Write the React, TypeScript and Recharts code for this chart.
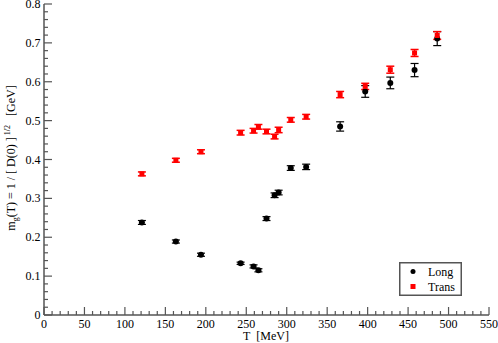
import React from 'react';
import { ScatterChart, Scatter, XAxis, YAxis, ErrorBar, Legend, Label } from 'recharts';

const temperatures = [121, 163, 194, 243, 259, 265, 275, 285, 290, 305, 324, 366, 397, 428, 458, 486];
const longValues = [0.238, 0.189, 0.155, 0.133, 0.125, 0.115, 0.248, 0.308, 0.315, 0.378, 0.381, 0.485, 0.575, 0.597, 0.630, 0.711];
const longErrors = [0.005, 0.004, 0.004, 0.003, 0.004, 0.004, 0.005, 0.006, 0.006, 0.006, 0.007, 0.012, 0.015, 0.015, 0.017, 0.018];
const transValues = [0.363, 0.398, 0.420, 0.469, 0.474, 0.484, 0.472, 0.459, 0.476, 0.502, 0.510, 0.567, 0.588, 0.631, 0.674, 0.719];
const transErrors = [0.005, 0.005, 0.005, 0.006, 0.006, 0.006, 0.006, 0.006, 0.007, 0.006, 0.006, 0.008, 0.008, 0.009, 0.009, 0.010];

const xTicks = Array.from({ length: 56 }, (_, i) => i * 10);
const yTicks = Array.from({ length: 41 }, (_, i) => (i * 2) / 100);

const longData = temperatures.map((t, i) => ({ t, v: longValues[i], err: longErrors[i] }));
const transData = temperatures.map((t, i) => ({ t, v: transValues[i], err: transErrors[i] }));

const FONT = '"Liberation Serif", "Times New Roman", serif';
const AX = '#555';
const isMajorX = (v: number) => v % 50 === 0;
const isMajorY = (v: number) => Math.abs(v * 10 - Math.round(v * 10)) < 1e-6;
const fmtY = (v: number) => (Math.round(v * 10) === 0 ? '0' : (Math.round(v * 10) / 10).toString());

const BottomTick = (p: any) => {
  const { x, y, payload } = p;
  const major = isMajorX(payload.value);
  return (
    <g>
      <line x1={x} x2={x} y1={y} y2={y - (major ? 8 : 4)} stroke={AX} strokeWidth={1.2} />
      {major && (
        <text x={x} y={y + 12.5} textAnchor="middle" fontFamily={FONT} fontSize={12} fill="#000">
          {payload.value}
        </text>
      )}
    </g>
  );
};

const TopTick = (p: any) => {
  const { x, y, payload } = p;
  const major = isMajorX(payload.value);
  return <line x1={x} x2={x} y1={y} y2={y + (major ? 8 : 4)} stroke={AX} strokeWidth={1.2} />;
};

const LeftTick = (p: any) => {
  const { x, y, payload } = p;
  const major = isMajorY(payload.value);
  return (
    <g>
      <line x1={x} x2={x + (major ? 8 : 4)} y1={y} y2={y} stroke={AX} strokeWidth={1.2} />
      {major && (
        <text x={x - 3.5} y={y + 4} textAnchor="end" fontFamily={FONT} fontSize={12} fill="#000">
          {fmtY(payload.value)}
        </text>
      )}
    </g>
  );
};

const RightTick = (p: any) => {
  const { x, y, payload } = p;
  const major = isMajorY(payload.value);
  return <line x1={x} x2={x - (major ? 8 : 4)} y1={y} y2={y} stroke={AX} strokeWidth={1.2} />;
};

const CircleShape = (p: any) => <circle cx={p.cx} cy={p.cy} r={3} fill="#000" />;
const SquareShape = (p: any) => <rect x={p.cx - 2.5} y={p.cy - 2.5} width={5} height={5} fill="#ff0000" />;

const LegendBox = () => (
  <svg width={63} height={34} style={{ display: 'block' }}>
    <rect x={0.75} y={0.75} width={61.5} height={32.5} fill="#fff" stroke={AX} strokeWidth={1.5} />
    <circle cx={14} cy={9.5} r={2.5} fill="#000" />
    <text x={29} y={13.5} fontFamily={FONT} fontSize={12} fill="#000">Long</text>
    <rect x={11.5} y={22} width={5} height={5} fill="#ff0000" />
    <text x={29} y={28.5} fontFamily={FONT} fontSize={12} fill="#000">Trans</text>
  </svg>
);

const XLabel = () => (
  <text x={266} y={340} textAnchor="middle" fontFamily={FONT} fontSize={12} fill="#000" style={{ whiteSpace: 'pre' }}>
    T  [MeV]
  </text>
);

const YLabel = () => (
  <text
    transform="translate(15,158) rotate(-90)"
    x={0}
    y={0}
    textAnchor="middle"
    fontFamily={FONT}
    fontSize={12}
    fill="#000"
    style={{ whiteSpace: 'pre' }}
  >
    m
    <tspan fontSize={8} dy={3}>g</tspan>
    <tspan dy={-3}>(T) = 1 / [ D(0) ]</tspan>
    <tspan fontSize={8} dy={-5}> 1/2</tspan>
    <tspan dy={5}>   [GeV]</tspan>
  </text>
);

export default function App() {
  return (
    <div style={{ position: 'absolute', left: 0, top: 0, background: '#fff' }}>
      <ScatterChart width={498} height={343} margin={{ top: 4, right: 9, bottom: 0, left: 0 }}>
        <XAxis
          xAxisId={0}
          type="number"
          dataKey="t"
          domain={[0, 550]}
          ticks={xTicks}
          interval={0}
          tick={BottomTick}
          tickLine={false}
          tickSize={0}
          tickMargin={0}
          height={28}
          axisLine={{ stroke: AX, strokeWidth: 1.5 }}
        >
          <Label content={XLabel} />
        </XAxis>
        <XAxis
          xAxisId="top"
          orientation="top"
          type="number"
          domain={[0, 550]}
          ticks={xTicks}
          interval={0}
          tick={TopTick}
          tickLine={false}
          tickSize={0}
          tickMargin={0}
          height={0}
          axisLine={{ stroke: AX, strokeWidth: 1.5 }}
        />
        <YAxis
          yAxisId={0}
          type="number"
          dataKey="v"
          domain={[0, 0.8]}
          ticks={yTicks}
          interval={0}
          tick={LeftTick}
          tickLine={false}
          tickSize={0}
          tickMargin={0}
          width={44}
          axisLine={{ stroke: AX, strokeWidth: 1.5 }}
        >
          <Label content={YLabel} />
        </YAxis>
        <YAxis
          yAxisId="right"
          orientation="right"
          type="number"
          domain={[0, 0.8]}
          ticks={yTicks}
          interval={0}
          tick={RightTick}
          tickLine={false}
          tickSize={0}
          tickMargin={0}
          width={0}
          axisLine={{ stroke: AX, strokeWidth: 1.5 }}
        />
        <Legend
          layout="vertical"
          align="center"
          verticalAlign="middle"
          content={LegendBox}
          wrapperStyle={{ left: 399, top: 262, width: 63, height: 34 }}
        />
        <Scatter name="Long" data={longData} dataKey="v" shape={CircleShape} isAnimationActive={false}>
          <ErrorBar dataKey="err" direction="y" width={4} stroke="#000" strokeWidth={1.2} />
        </Scatter>
        <Scatter name="Trans" data={transData} dataKey="v" shape={SquareShape} isAnimationActive={false}>
          <ErrorBar dataKey="err" direction="y" width={4} stroke="#ff0000" strokeWidth={1.5} />
        </Scatter>
      </ScatterChart>
    </div>
  );
}
